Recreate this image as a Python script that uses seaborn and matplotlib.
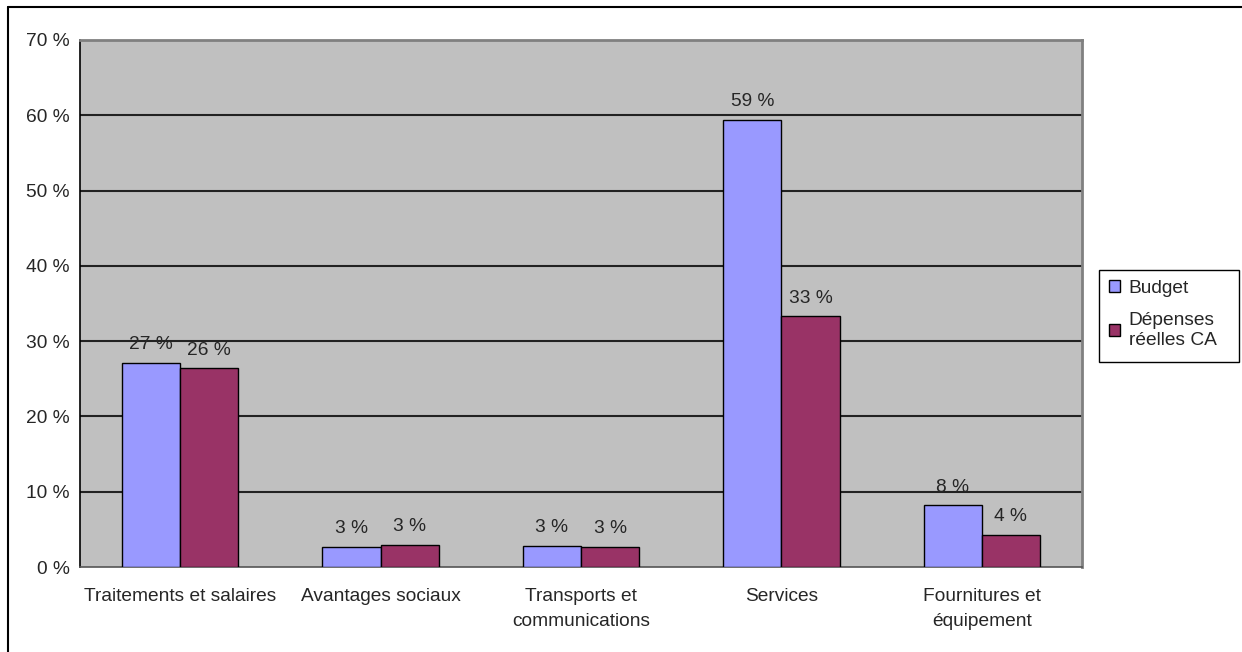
import matplotlib
matplotlib.use("Agg")
import matplotlib.pyplot as plt
import seaborn as sns
import pandas as pd
from matplotlib.patches import Patch, Rectangle
from matplotlib.lines import Line2D

categories = ["Traitements et salaires", "Avantages sociaux",
              "Transports et\ncommunications", "Services",
              "Fournitures et\néquipement"]
series_names = ["Budget", "Dépenses\nréelles CA"]
budget = [27.1, 2.7, 2.8, 59.4, 8.2]
depenses = [26.4, 2.9, 2.65, 33.3, 4.25]
ytick_values = [0, 10, 20, 30, 40, 50, 60, 70]
ytick_labels = ["0 %", "10 %", "20 %", "30 %", "40 %", "50 %", "60 %", "70 %"]
colors = ["#9999FF", "#993366"]

rows = []
for c, b, d in zip(categories, budget, depenses):
    rows.append({"cat": c, "serie": series_names[0], "val": b})
    rows.append({"cat": c, "serie": series_names[1], "val": d})
df = pd.DataFrame(rows)

sns.set_style("white")
plt.rcParams["font.family"] = ["Liberation Sans", "DejaVu Sans"]
FS = 13.8

W, H = 1242, 652
fig = plt.figure(figsize=(W / 100, H / 100), dpi=100)
ax = fig.add_axes([80 / W, (H - 567) / H, (1082 - 80) / W, (567 - 40) / H])
ax.set_facecolor("#C0C0C0")

sns.barplot(data=df, x="cat", y="val", hue="serie", palette=colors,
            saturation=1, width=0.58, edgecolor="black", linewidth=1.0,
            ax=ax, legend=False, zorder=3, errorbar=None)

ax.set_ylim(0, 70)
ax.set_xlim(-0.5, len(categories) - 0.5)
ax.set_yticks(ytick_values)
ax.set_yticklabels(ytick_labels, fontsize=FS)
for y in ytick_values[1:-1]:
    ax.axhline(y, color="#222222", lw=1.5, zorder=1)

ax.set_xticks(range(len(categories)))
ax.set_xticklabels(categories, fontsize=FS, linespacing=1.6, va="top")
ax.tick_params(axis="x", which="major", length=0, pad=15)
ax.set_xticks([i - 0.5 for i in range(len(categories) + 1)], minor=True)
ax.tick_params(axis="x", which="minor", length=5, color="#555555", width=1)
ax.tick_params(axis="y", length=3.5, width=1, color="black", pad=4)
ax.set_xlabel("")
ax.set_ylabel("")

ax.spines["left"].set_color("black")
ax.spines["left"].set_linewidth(1.2)
ax.spines["bottom"].set_color("#555555")
ax.spines["bottom"].set_linewidth(1.2)
ax.spines["top"].set_color("#808080")
ax.spines["top"].set_linewidth(2)
ax.spines["right"].set_color("#808080")
ax.spines["right"].set_linewidth(2)

for cont in ax.containers:
    labels = [f"{round(v.get_height()):d} %" for v in cont]
    ax.bar_label(cont, labels=labels, padding=7, fontsize=FS, zorder=5)

handles = [Patch(facecolor=colors[i], edgecolor="black", label=series_names[i])
           for i in range(2)]
leg = fig.legend(handles=handles, loc="upper left",
                 bbox_to_anchor=(1099 / W, 1 - 270 / H), fontsize=FS,
                 frameon=False,
                 handlelength=0.6, handleheight=0.6, handletextpad=0.45,
                 labelspacing=0.8, borderpad=0.5, borderaxespad=0)
fig.add_artist(Rectangle((1099 / W, 1 - 362 / H), 140 / W, 92 / H,
                         transform=fig.transFigure, facecolor="none",
                         edgecolor="black", lw=1.0))

# outer chart frame
fig.add_artist(Line2D([8 / W, 8 / W], [0, 1 - 7 / H], color="black", lw=1.5,
                      transform=fig.transFigure))
fig.add_artist(Line2D([8 / W, 1], [1 - 7 / H, 1 - 7 / H], color="black", lw=1.5,
                      transform=fig.transFigure))

fig.savefig("out.png", dpi=100)
